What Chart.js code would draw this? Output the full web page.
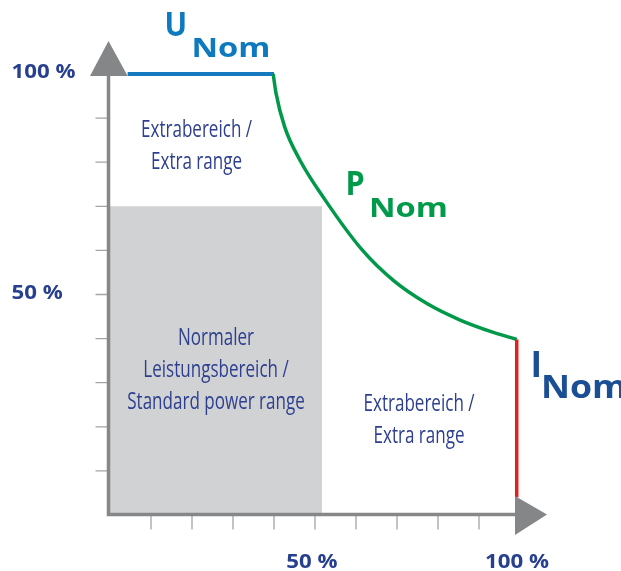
<!DOCTYPE html>
<html>
<head>
<meta charset="utf-8">
<script src="https://cdn.jsdelivr.net/npm/chart.js@4/dist/chart.umd.min.js"></script>
<style>
  html, body { margin: 0; padding: 0; background: #fff; }
  canvas { display: block; }
</style>
</head>
<body>
<canvas id="chart" width="621" height="571"></canvas>
<script>
// operating range (values in % of nominal)
const uNomX = [4.3, 40];
const uNomY = [100, 100];
const pNomX = [39.8, 40.5, 42.6, 46.3, 52.5, 61.5, 69.1, 77.2, 85.4, 93.5, 99.2];
const pNomY = [100, 95.6, 88, 80.5, 71.4, 60.1, 53.2, 48, 44.2, 41.4, 39.8];
const iNomX = [99.2, 99.2];
const iNomY = [39.8, 4];
const standardX = [0, 51.7];
const standardY = [70, 70];

const tickSteps = [10, 20, 30, 40, 50, 60, 70, 80, 90];
const yTickValues = [100, 50];
const yTickLabels = ['100 %', '50 %'];
const xTickValues = [50, 100];
const xTickLabels = ['50 %', '100 %'];

const regionColor = '#2d3f8e';
const regionLabels = [
    { lines: ['Extrabereich /', 'Extra range'], x: 196.5, y: 137 },
    { lines: ['Normaler', 'Leistungsbereich /', 'Standard power range'], x: 216, y: 345 },
    { lines: ['Extrabereich /', 'Extra range'], x: 419, y: 411 },
];

const pts = (xs, ys) => xs.map((x, i) => ({ x: x, y: ys[i] }));

function put(ctx, text, x, y, font, color, sx, align) {
    ctx.save();
    ctx.font = font;
    ctx.fillStyle = color;
    ctx.textAlign = align || 'left';
    ctx.textBaseline = 'alphabetic';
    ctx.translate(x, y);
    ctx.scale(sx, 1);
    ctx.fillText(text, 0, 0);
    ctx.restore();
}

function fitScale(ctx, text, font, width) {
    ctx.save();
    ctx.font = font;
    const w = ctx.measureText(text).width;
    ctx.restore();
    return width / w;
}

const axesPlugin = {
    id: 'axesPlugin',
    afterDatasetsDraw(chart) {
        const ctx = chart.ctx;
        const xs = chart.scales.x, ys = chart.scales.y;
        const x0 = xs.getPixelForValue(0) - 1.5;
        const y0 = ys.getPixelForValue(0) - 0.5;
        const yTop = ys.getPixelForValue(100);
        const xEnd = xs.getPixelForValue(100);

        ctx.save();
        // small ticks
        ctx.strokeStyle = '#a3a4a6';
        ctx.lineWidth = 1.3;
        ctx.beginPath();
        tickSteps.forEach(v => {
            const py = ys.getPixelForValue(v);
            ctx.moveTo(x0 - 13, py);
            ctx.lineTo(x0, py);
            const px = xs.getPixelForValue(v);
            ctx.moveTo(px, y0);
            ctx.lineTo(px, y0 + 15);
        });
        ctx.stroke();

        // axis lines
        ctx.strokeStyle = '#868789';
        ctx.lineWidth = 3.5;
        ctx.beginPath();
        ctx.moveTo(x0, yTop + 2);
        ctx.lineTo(x0, y0 + 1.75);
        ctx.moveTo(x0 - 1.75, y0);
        ctx.lineTo(xEnd - 4, y0);
        ctx.stroke();

        // arrow heads
        ctx.fillStyle = '#858688';
        ctx.beginPath();
        ctx.moveTo(x0 - 18.5, yTop + 2);
        ctx.lineTo(x0 + 19.2, yTop + 2);
        ctx.lineTo(x0, yTop - 33);
        ctx.closePath();
        ctx.fill();
        ctx.beginPath();
        ctx.moveTo(xEnd - 5, y0 - 18.5);
        ctx.lineTo(xEnd - 5, y0 + 20.5);
        ctx.lineTo(xEnd + 27, y0);
        ctx.closePath();
        ctx.fill();
        ctx.restore();

        // tick labels
        const tickFont = 'bold 20px "Open Sans"';
        const ts = fitScale(ctx, '100 %', tickFont, 64);
        yTickValues.forEach((v, i) => {
            put(ctx, yTickLabels[i], 11.5, ys.getPixelForValue(v) + 4, tickFont, '#263f8f', ts, 'left');
        });
        xTickValues.forEach((v, i) => {
            put(ctx, xTickLabels[i], xs.getPixelForValue(v) - 3, 568, tickFont, '#263f8f', ts, 'center');
        });

        // region labels
        const regFont = '23px "Open Sans"';
        const rs = fitScale(ctx, 'Extrabereich /', regFont, 111);
        regionLabels.forEach(r => {
            r.lines.forEach((t, i) => put(ctx, t, r.x, r.y + i * 32, regFont, regionColor, rs, 'center'));
        });

        // U / P / I nominal labels
        const bigFont = 'bold 34px "Open Sans"';
        const subFont = 'bold 27px "Open Sans"';
        const ns = fitScale(ctx, 'Nom', subFont, 79);
        put(ctx, 'U', 164.5, 35.5, bigFont, '#0d79be', 0.88, 'left');
        put(ctx, 'Nom', 191.5, 56.7, subFont, '#0d79be', ns, 'left');
        put(ctx, 'P', 345.5, 195, bigFont, '#009a4a', 0.9, 'left');
        put(ctx, 'Nom', 369, 216.7, subFont, '#009a4a', ns, 'left');
        put(ctx, 'I', 530.5, 377, 'bold 35px "Open Sans"', '#1a4f95', 1, 'left');
        put(ctx, 'Nom', 541, 397.5, 'bold 32px "Open Sans"', '#1a4f95', ns * 0.92, 'left');
    }
};

const ctx = document.getElementById('chart');
new Chart(ctx, {
    type: 'line',
    data: {
        datasets: [
            {
                label: 'Standard power range',
                data: pts(standardX, standardY),
                borderWidth: 0,
                borderColor: 'rgba(0,0,0,0)',
                backgroundColor: '#d1d2d4',
                fill: 'origin',
                pointRadius: 0,
                order: 4,
            },
            {
                label: 'U Nom',
                data: pts(uNomX, uNomY),
                borderColor: '#1479bf',
                borderWidth: 4,
                pointRadius: 0,
                order: 3,
            },
            {
                label: 'P Nom',
                data: pts(pNomX, pNomY),
                borderColor: '#00994a',
                borderWidth: 3.5,
                pointRadius: 0,
                cubicInterpolationMode: 'monotone',
                order: 2,
            },
            {
                label: 'I Nom',
                data: pts(iNomX, iNomY),
                borderColor: '#e1211f',
                borderWidth: 3.5,
                pointRadius: 0,
                order: 1,
            },
        ],
    },
    options: {
        responsive: false,
        animation: false,
        clip: false,
        layout: { padding: { left: 110, right: 101, top: 74, bottom: 56 } },
        scales: {
            x: { type: 'linear', min: 0, max: 100, display: false },
            y: { type: 'linear', min: 0, max: 100, display: false },
        },
        plugins: {
            legend: { display: false },
            tooltip: { enabled: false },
        },
    },
    plugins: [axesPlugin],
});
</script>
</body>
</html>
